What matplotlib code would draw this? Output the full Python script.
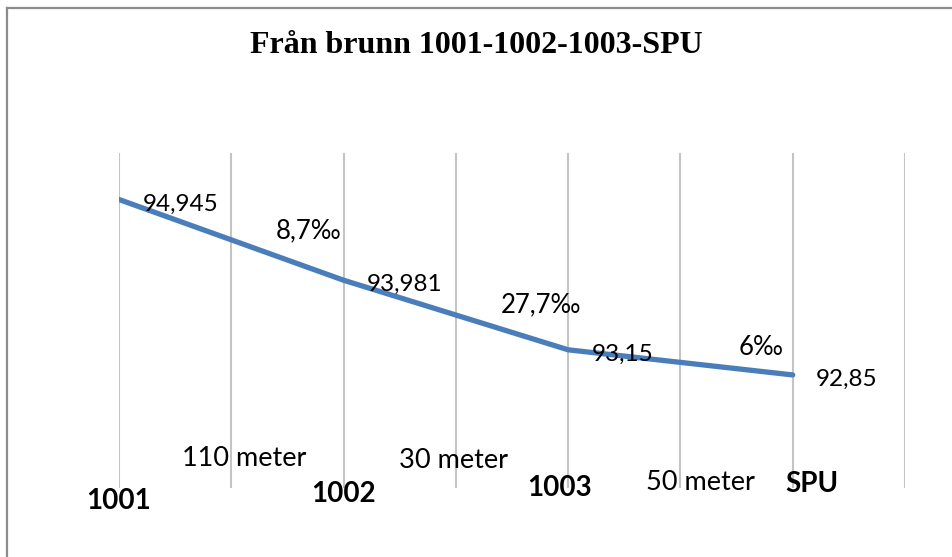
import matplotlib
matplotlib.use('Agg')
import matplotlib.pyplot as plt
from matplotlib.lines import Line2D

# data
stations = ['1001', '1002', '1003', 'SPU']
station_pos = [0, 2, 4, 6]
levels = [94.945, 93.981, 93.15, 92.85]
level_labels = ['94,945', '93,981', '93,15', '92,85']
slopes = ['8,7‰', '27,7‰', '6‰']
distances = ['110 meter', '30 meter', '50 meter']

# layout of the free text boxes (data coords, baseline)
slope_xy = [(1.692, 94.48), (3.758, 93.598), (5.722, 93.088)]
dist_xy = [(1.116, 91.766), (2.983, 91.735), (5.179, 91.476)]
station_xy = [(0.0, 91.246), (1.995, 91.336), (3.919, 91.404), (6.172, 91.452)]

W, H = 952, 557
fig = plt.figure(figsize=(W / 100, H / 100), dpi=100)
ax = fig.add_axes([119 / W, 1 - 488 / H, (905 - 119) / W, (488 - 153) / H])

ax.set_xlim(0, 7)
ax.set_ylim(91.5, 95.5)
for i in range(8):
    ax.axvline(i, color='#c4c4c4', lw=1.5, zorder=1)
for s in ax.spines.values():
    s.set_visible(False)
ax.set_xticks([])
ax.set_yticks([])

ax.plot(station_pos, levels, color='#4a7ebb', lw=3.8, solid_capstyle='round', zorder=3)

font = 'Lato'
for x, y, lab in zip(station_pos, levels, level_labels):
    ax.annotate(lab, xy=(x, y), xytext=(23.5, -11), textcoords='offset pixels',
                ha='left', va='baseline', fontsize=17.5, family=font, zorder=4)
for (x, y), lab in zip(slope_xy, slopes):
    ax.text(x, y, lab, ha='center', va='baseline', fontsize=18.5, family=font)
for (x, y), lab in zip(dist_xy, distances):
    ax.text(x, y, lab, ha='center', va='baseline', fontsize=19.5, family=font, zorder=4)
for (x, y), lab in zip(station_xy, stations):
    ax.text(x, y, lab, ha='center', va='baseline', fontsize=20, family=font,
            fontweight='bold', clip_on=False)

fig.text(0.5, 1 - 53 / H, 'Från brunn 1001-1002-1003-SPU', ha='center', va='baseline',
         fontsize=23, family='Liberation Serif', fontweight='bold')

# outer border (left and top edges visible)
fig.add_artist(Line2D([6.5 / W, 6.5 / W], [0, 1 - 7.5 / H], color='#8c8c8c', lw=1.6,
                      transform=fig.transFigure))
fig.add_artist(Line2D([6.5 / W, 1], [1 - 7.5 / H, 1 - 7.5 / H], color='#8c8c8c', lw=1.6,
                      transform=fig.transFigure))

fig.savefig('out.png', dpi=100)
